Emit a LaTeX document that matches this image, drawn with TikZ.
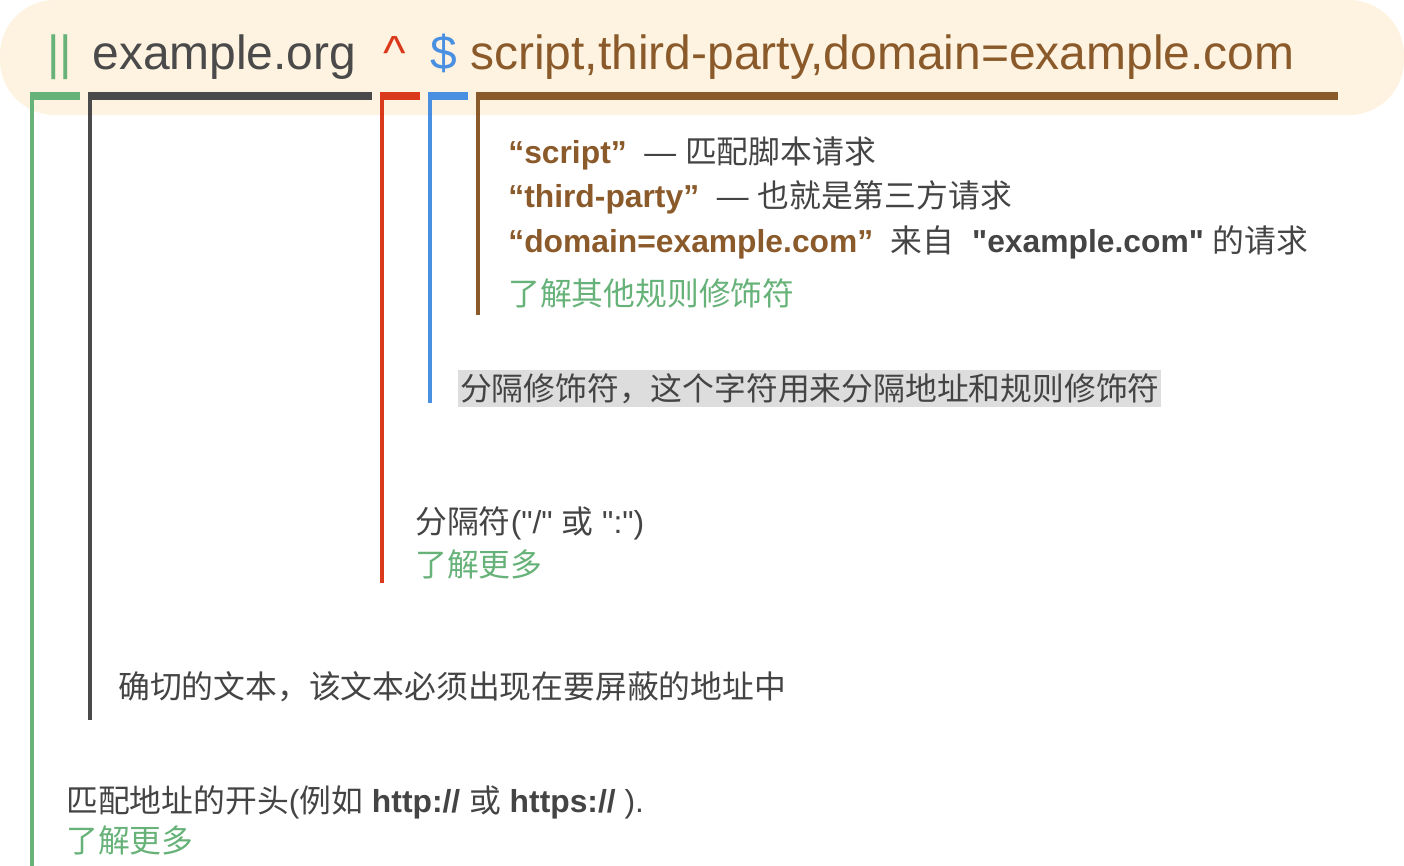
\documentclass[tikz,border=0pt]{standalone}
\usepackage{fontspec}
\setmainfont{Liberation Sans}
\newfontfamily\cjk{Noto Sans CJK SC}
\usepackage{xcolor}
\usepackage{tikz}
\definecolor{mgreen}{HTML}{67B279}
\definecolor{mdark}{HTML}{4A4A4A}
\definecolor{mred}{HTML}{DA3A1B}
\definecolor{mblue}{HTML}{4A90E2}
\definecolor{mbrown}{HTML}{8B5A2B}
\definecolor{cream}{HTML}{FEF3E0}
\definecolor{txtgray}{HTML}{444444}
\definecolor{hlgray}{HTML}{DDDDDD}
\newcommand{\zh}[1]{{\cjk #1}}
\newcommand{\dq}{\textquotedbl}

\begin{document}
\begin{tikzpicture}[
    x=0.02cm, y=-0.02cm,
    every node/.style={inner sep=0pt, anchor=base west},
    token/.style={font=\fontsize{27.3}{32}\selectfont},
    note/.style={font=\fontsize{18.1}{22}\selectfont, text=txtgray},
    more/.style={note, text=mgreen},
    hbar/.style={line width=4pt},
    vbar/.style={line width=2.3pt},
]
\useasboundingbox (0,0) rectangle (1404,866);
\fill[cream, rounded corners=1.1cm] (0,0) rectangle (1404,115);
\node[token, text=mgreen] (pipe) at (47,69) {||};
\node[token, text=mdark] (addr) at (92,69) {example.org};
\node[token, text=mred] (caret) at (383,69) {\textasciicircum};
\node[token, text=mblue] (dollar) at (430,69) {\$};
\node[token, text=mbrown] (mods) at (470,69) {script,third-party,domain=example.com};
\draw[hbar, mgreen] (30,96) -- (80,96);
\draw[vbar, mgreen] (32,93) -- (32,866);
\draw[hbar, mdark] (88,96) -- (372,96);
\draw[vbar, mdark] (90,93) -- (90,720);
\draw[hbar, mred] (380,96) -- (420,96);
\draw[vbar, mred] (382,93) -- (382,583);
\draw[hbar, mblue] (428,96) -- (468,96);
\draw[vbar, mblue] (430,93) -- (430,403);
\draw[hbar, mbrown] (476,96) -- (1338,96);
\draw[vbar, mbrown] (478,93) -- (478,315);
\node[note] (script) at (508,163) {\textbf{\color{mbrown}“script”}\ \ — \zh{匹配脚本请求}};
\node[note] (party) at (508,207) {\textbf{\color{mbrown}“third-party”}\ \ — \zh{也就是第三方请求}};
\node[note] (domain) at (508,252) {\textbf{\color{mbrown}“domain=example.com”}\ \ \zh{来自}\ \ \textbf{\dq example.com\dq} \zh{的请求}};
\node[more] (moremods) at (508,305) {\zh{了解其他规则修饰符}};
\node[note, fill=hlgray, text height=17pt, text depth=4pt, inner xsep=1pt] (sepmods) at (458,400) {\zh{分隔修饰符，这个字符用来分隔地址和规则修饰符}};
\node[note] (sepchar) at (415,533) {\zh{分隔符}(\dq/\dq{} \zh{或} \dq:\dq)};
\node[more] (moresep) at (415,576) {\zh{了解更多}};
\node[note] (exact) at (118,698) {\zh{确切的文本，该文本必须出现在要屏蔽的地址中}};
\node[note] (start) at (66,812) {\zh{匹配地址的开头}(\zh{例如} \textbf{http://} \zh{或} \textbf{https://} ).};
\node[more] (morestart) at (66,852) {\zh{了解更多}};
\end{tikzpicture}
\end{document}
